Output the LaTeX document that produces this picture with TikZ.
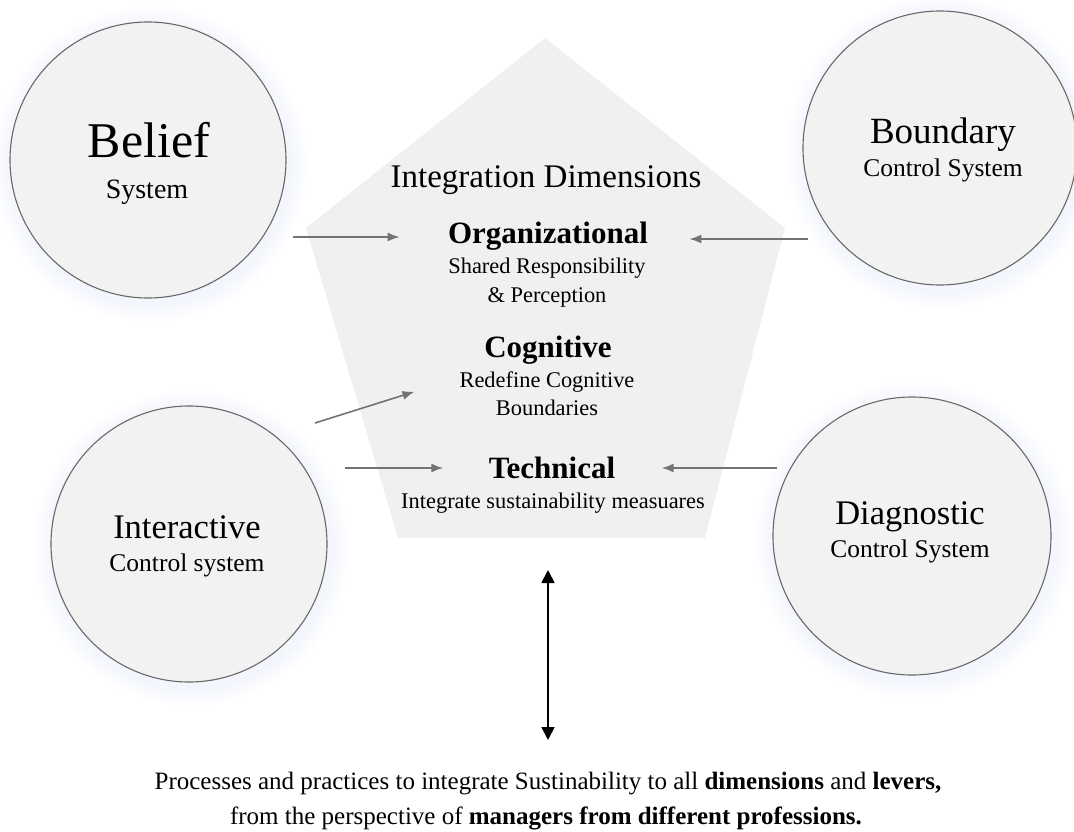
\documentclass[tikz,border=0pt]{standalone}
\usepackage{fontspec}
\setmainfont{Liberation Serif}
\usetikzlibrary{arrows.meta}
\usetikzlibrary{positioning}

\definecolor{circfill}{RGB}{242,242,242}
\definecolor{circline}{RGB}{105,105,105}
\definecolor{pentfill}{RGB}{240,240,240}
\definecolor{arrgray}{RGB}{115,115,115}
\definecolor{glowblue}{RGB}{210,220,248}

\newcommand{\fsz}[2]{\fontsize{#1pt}{#2pt}\selectfont}

\tikzset{
  sysc/.style={circle, draw=circline, line width=1.1pt, fill=circfill, inner sep=0pt},
  sysname/.style={anchor=base, font=\fsz{34.5}{38}},
  syssub/.style={anchor=base, font=\fsz{25.5}{28}},
  dimhead/.style={anchor=base, font=\fsz{31}{34}\bfseries},
  dimsub/.style={anchor=base, font=\fsz{22.4}{28}},
  arr/.style={-{Latex[length=12pt,width=9pt]}, draw=arrgray, line width=1.6pt},
  dblarr/.style={{Triangle[length=13pt,width=13pt]}-{Triangle[length=13pt,width=13pt]}, line width=1.6pt}
}

\begin{document}
\begin{tikzpicture}[x=1pt, y=-1pt]
\useasboundingbox (0,0) rectangle (1074,832);

% Pentagono
\fill[pentfill] (545,38) -- (785,228) -- (705,538) -- (398,538) -- (306,228) -- cycle;

% Brillo de los circulos
\foreach \cx/\cy/\cr in {148/160/138, 940/148/137, 189/544/138, 912/536/139}
  \foreach \k in {2,4,...,20}
    \fill[glowblue, fill opacity=0.03] (\cx+2,\cy+4) circle (\cr+\k);

% Sistemas de control
\node [sysc, minimum size=276pt] (belief) at (148,160) {};
\node [anchor=base, font=\fsz{50}{54}] (belief-t) at (149,158) {Belief};
\node [syssub, font=\fsz{28}{30}] (belief-s) at (147,198) {System};

\node [sysc, minimum size=274pt] (boundary) at (940,148) {};
\node [sysname, font=\fsz{37}{40}] (boundary-t) at (943,144) {Boundary};
\node [syssub] (boundary-s) at (943,176) {Control System};

\node [sysc, minimum size=276pt] (interactive) at (189,544) {};
\node [sysname] (interactive-t) at (187,538) {Interactive};
\node [syssub] (interactive-s) at (187,571) {Control system};

\node [sysc, minimum size=278pt] (diagnostic) at (912,536) {};
\node [sysname] (diagnostic-t) at (910,524) {Diagnostic};
\node [syssub] (diagnostic-s) at (910,557) {Control System};

% Dimensiones
\node [anchor=base, font=\fsz{33}{36}] (dims) at (546,187) {Integration Dimensions};

\node [dimhead] (org) at (548,243) {Organizational};
\node [dimsub] (org-s1) at (547,273) {Shared Responsibility};
\node [dimsub] (org-s2) at (547,302) {\& Perception};

\node [dimhead] (cog) at (548,357) {Cognitive};
\node [dimsub] (cog-s1) at (547,387) {Redefine Cognitive};
\node [dimsub] (cog-s2) at (547,415) {Boundaries};

\node [dimhead] (tech) at (552,478) {Technical};
\node [dimsub] (tech-s) at (553,508) {Integrate sustainability measuares};

% Procesos
\node [anchor=base, font=\fsz{25}{35}] (procs1) at (548,789)
  {Processes and practices to integrate Sustinability to all \textbf{dimensions} and \textbf{levers,}};
\node [anchor=base, font=\fsz{25}{35}] (procs2) at (546,824)
  {from the perspective of \textbf{managers from different professions.}};

% Conexiones
\coordinate (bel-out) at (293,237);
\coordinate (bnd-out) at (808,239);
\coordinate (int-out1) at (315,423);
\coordinate (int-out2) at (345,468);
\coordinate (dia-out) at (777,468);
\coordinate (up) at (548,570);
\coordinate (down) at (548,740);

\draw[arr, shorten >=45pt] (bel-out) -- (bel-out -| org.west);
\draw[arr, shorten >=38pt] (bnd-out) -- (bnd-out -| org.east);
\draw[arr, shorten >=140pt] (int-out1) -- (cog.center);
\draw[arr, shorten >=42pt] (int-out2) -- (int-out2 -| tech.west);
\draw[arr, shorten >=43pt] (dia-out) -- (dia-out -| tech.east);
\draw[dblarr] (up) -- (down);

\end{tikzpicture}
\end{document}
